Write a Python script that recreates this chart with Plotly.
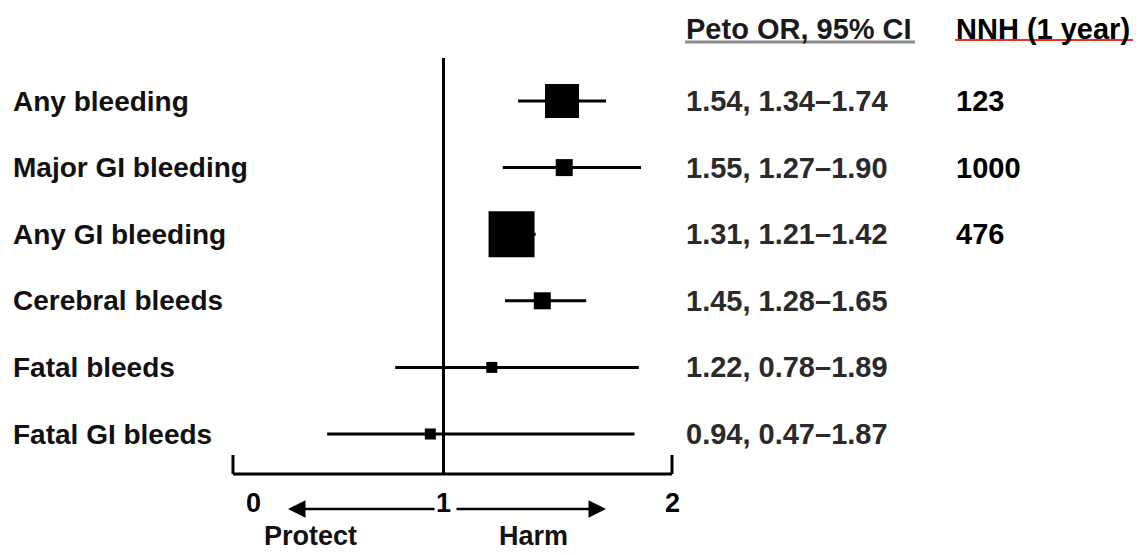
import plotly.graph_objects as go

# ---------------- data ----------------
outcomes = ["Any bleeding", "Major GI bleeding", "Any GI bleeding",
            "Cerebral bleeds", "Fatal bleeds", "Fatal GI bleeds"]
or_est = [1.54, 1.55, 1.31, 1.45, 1.22, 0.94]
ci_low = [1.34, 1.27, 1.21, 1.28, 0.78, 0.47]
ci_high = [1.74, 1.90, 1.42, 1.65, 1.89, 1.87]
nnh = ["123", "1000", "476", "", "", ""]
tick_vals = [0, 1, 2]
tick_text = ["0", "1", "2"]
header_or = "Peto OR, 95% CI"
header_nnh = "NNH (1 year)"
dir_labels = ["Protect", "Harm"]

# ---------------- styles ----------------
PAGE_W, PAGE_H = 1141, 555
OFF = 8                      # default body margin of the html page
W, H = PAGE_W - OFF, PAGE_H - OFF
marker_sizes = [34, 17, 46, 17, 11, 11]
FONT = "Liberation Sans, Arial, Helvetica, sans-serif"
PX_PER_UNIT = 219.5
X0_PX = 224.0                # page pixel of value 0
ROW0_PX = 101.0              # page pixel of first row
ROW_STEP = 66.6

def px2x(px):
    return (px - OFF - (X0_PX - OFF)) / PX_PER_UNIT

def fx(px):                  # page x pixel -> paper
    return (px - OFF) / W

def fy(py):                  # page y pixel -> paper
    return 1 - (py - OFF) / H

x_range = [px2x(OFF), px2x(PAGE_W)]
y_range = [(PAGE_H - ROW0_PX) / ROW_STEP, -(ROW0_PX - OFF) / ROW_STEP]

or_text = [f"{e:.2f}, {l:.2f}\u2013{h:.2f}" for e, l, h in zip(or_est, ci_low, ci_high)]

fig = go.Figure()
fig.add_trace(go.Scatter(
    x=or_est, y=outcomes, mode="markers",
    marker=dict(symbol="square", size=marker_sizes, color="black", opacity=1,
                line=dict(width=0)),
    error_x=dict(type="data", symmetric=False,
                 array=[h - e for h, e in zip(ci_high, or_est)],
                 arrayminus=[e - l for e, l in zip(or_est, ci_low)],
                 color="black", thickness=3, width=0),
    showlegend=False, hoverinfo="skip",
))

shapes = []
axis_y = fy(474)
tick_top = fy(455)
bx0, bx1 = px2x(233), px2x(672)
shapes.append(dict(type="line", xref="x", yref="paper", x0=bx0, x1=bx1, y0=axis_y, y1=axis_y,
                   line=dict(color="black", width=3)))
for bx in (bx0, bx1):
    shapes.append(dict(type="line", xref="x", yref="paper", x0=bx, x1=bx, y0=axis_y, y1=tick_top,
                       line=dict(color="black", width=3)))
shapes.append(dict(type="line", xref="x", yref="paper", x0=1, x1=1, y0=axis_y, y1=fy(58),
                   line=dict(color="black", width=3)))
shapes.append(dict(type="line", xref="paper", yref="paper", x0=fx(685), x1=fx(915),
                   y0=fy(42), y1=fy(42), line=dict(color="#8a8a8a", width=3)))
shapes.append(dict(type="line", xref="paper", yref="paper", x0=fx(955), x1=fx(1134),
                   y0=fy(40), y1=fy(40), line=dict(color="#e8341c", width=2)))

ann = []
for lab in outcomes:
    ann.append(dict(x=fx(11), xref="paper", y=lab, yref="y", text=f"<b>{lab}</b>",
                    showarrow=False, xanchor="left", yanchor="middle",
                    font=dict(family=FONT, size=28, color="#111")))
for lab, t in zip(outcomes, or_text):
    ann.append(dict(x=fx(684), xref="paper", y=lab, yref="y", text=f"<b>{t}</b>",
                    showarrow=False, xanchor="left", yanchor="middle",
                    font=dict(family=FONT, size=29, color="#2a2a2a")))
for lab, t in zip(outcomes, nnh):
    if t:
        ann.append(dict(x=fx(954), xref="paper", y=lab, yref="y", text=f"<b>{t}</b>",
                        showarrow=False, xanchor="left", yanchor="middle",
                        font=dict(family=FONT, size=29, color="black")))
ann.append(dict(x=fx(684), xref="paper", y=fy(29), yref="paper", text=f"<b>{header_or}</b>",
                showarrow=False, xanchor="left", yanchor="middle",
                font=dict(family=FONT, size=29, color="#1a1a1a")))
ann.append(dict(x=fx(954), xref="paper", y=fy(29), yref="paper", text=f"<b>{header_nnh}</b>",
                showarrow=False, xanchor="left", yanchor="middle",
                font=dict(family=FONT, size=29, color="black")))
tick_offsets_px = [29, 0, 9]
for v, t, off in zip(tick_vals, tick_text, tick_offsets_px):
    ann.append(dict(x=v + off / PX_PER_UNIT, xref="x", y=fy(503), yref="paper",
                    text=f"<b>{t}</b>", showarrow=False, xanchor="center", yanchor="middle",
                    font=dict(family=FONT, size=27, color="black")))
arrow_y = fy(509)
for tip, tail in ((px2x(288), px2x(436)), (px2x(606), px2x(455))):
    ann.append(dict(x=tip, y=arrow_y, xref="x", yref="paper", ax=tail, ay=0,
                    axref="x", ayref="pixel", text="", showarrow=True,
                    arrowhead=2, arrowsize=1.4, arrowwidth=2.5, arrowcolor="black"))
for lab, px in zip(dir_labels, (310, 533)):
    ann.append(dict(x=px2x(px), xref="x", y=fy(553), yref="paper", text=f"<b>{lab}</b>",
                    showarrow=False, xanchor="center", yanchor="bottom",
                    font=dict(family=FONT, size=27, color="#111")))

fig.update_layout(
    width=W, height=H, margin=dict(l=0, r=0, t=0, b=0),
    paper_bgcolor="white", plot_bgcolor="white",
    xaxis=dict(range=x_range, visible=False, fixedrange=True),
    yaxis=dict(type="category", categoryarray=outcomes, range=y_range, visible=False),
    shapes=shapes, annotations=ann,
)
fig.write_html("out.html")
